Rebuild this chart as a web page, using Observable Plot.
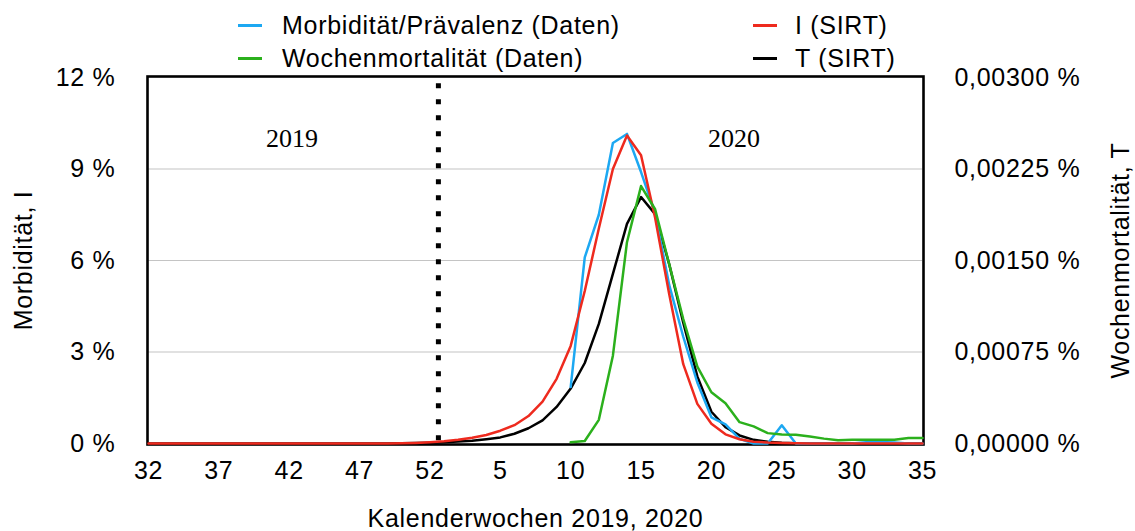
<!DOCTYPE html>
<html><head><meta charset="utf-8">
<script src="https://cdn.jsdelivr.net/npm/d3@7"></script>
<script src="https://cdn.jsdelivr.net/npm/@observablehq/plot@0.6"></script>
<style>
body{margin:0;background:#fff;}
#wrap{position:relative;width:1135px;height:531px;font-family:"Liberation Sans",Arial,sans-serif;}
#wrap svg text{letter-spacing:0.7px;}
#wrap svg g[font-family="Liberation Serif"] text{letter-spacing:0;}
.leg{position:absolute;font-size:25px;letter-spacing:0.7px;line-height:25px;height:25px;white-space:nowrap;color:#000;}
.sw{position:absolute;height:3px;}
</style></head><body><div id="wrap"></div>
<script>
// Calendar weeks (x categories)
const weeks2019 = [32,33,34,35,36,37,38,39,40,41,42,43,44,45,46,47,48,49,50,51,52];
const weeks2020 = [1,2,3,4,5,6,7,8,9,10,11,12,13,14,15,16,17,18,19,20,21,22,23,24,25,26,27,28,29,30,31,32,33,34,35];
const weekLabels = [...weeks2019, ...weeks2020];

// I (SIRT), % — left axis, from week 32/2019
const sirtI = [0,0,0,0,0,0,0,0,0,0,0,0,0,0,0,0,0,0,
  0.01,0.02,0.04,0.07,0.12,0.19,0.28,0.42,0.6,0.9,1.37,2.12,3.2,5.0,7.05,9.0,10.1,9.45,7.4,4.9,2.6,1.3,0.65,0.3,0.14,0.06,0.03,0.015,0.008,
  0,0,0,0,0,0,0,0,0];
// T (SIRT), % — right axis, from week 32/2019
const sirtT = [0,0,0,0,0,0,0,0,0,0,0,0,0,0,0,0,0,0,
  0.000002,0.000004,0.000007,0.000011,0.000016,0.000022,0.000035,0.00005,0.00008,0.000125,0.00019,0.0003,0.00045,0.00066,0.00098,0.00139,0.0018,0.00202,0.00188,0.00147,0.00099,0.00055,0.00026,0.000134,0.000066,0.00003,0.000015,0.000007,0.000003,
  0,0,0,0,0,0,0,0,0];
// Data series from week 10/2020 to week 35/2020
const morbidityData = [1.85,6.1,7.5,9.85,10.15,8.9,7.55,5.2,3.5,2.0,0.86,0.63,0.15,0,0,0.6,0,0,0,0,0,0.04,0.05,0.03,0,0];
const mortalityData = [0.00001,0.00002,0.000194,0.00072,0.00165,0.00211,0.00192,0.00147,0.00102,0.00063,0.00042,0.00033,0.000175,0.00014,0.000085,0.000074,0.000071,0.000057,0.00004,0.000026,0.00003,0.00003,0.00003,0.00003,0.000045,0.000045];
const dataStartWeek = 10; // 2020

const leftTicks = [0,3,6,9,12];
const rightMax = 0.003;
const xTickIdx = [0,5,10,15,20,25,30,35,40,45,50,55];
const yearLabels = ["2019","2020"];
const yearLabelX = [10.2, 41.6];
const yearLabelY = 10;
const yearBoundary = 20.6;

const legendLabels = ["Morbidität/Prävalenz (Daten)","Wochenmortalität (Daten)","I (SIRT)","T (SIRT)"];
const colors = {blue:"#1ca8f2", green:"#2bb01c", red:"#ee2a1e", black:"#000000"};
const legendColors = [colors.blue, colors.green, colors.red, colors.black];

const k = 12 / rightMax;
const start = weeks2019.length + weeks2020.indexOf(dataStartWeek);
const rowsI = sirtI.map((v,i)=>({i, v}));
const rowsT = sirtT.map((v,i)=>({i, v: v*k}));
const rowsM = morbidityData.map((v,j)=>({i: start+j, v}));
const rowsW = mortalityData.map((v,j)=>({i: start+j, v: v*k}));

const chart = Plot.plot({
  width:1135, height:531,
  marginTop:77, marginBottom:88, marginLeft:148, marginRight:213,
  style:{fontFamily:"Liberation Sans, Arial, sans-serif", fontSize:"25px", color:"#000", background:"#fff", overflow:"visible"},
  x:{domain:[0,55]},
  y:{domain:[0,12]},
  marks:[
    Plot.gridY([3,6,9], {stroke:"#c4c4c4", strokeOpacity:1, strokeWidth:1.2}),
    Plot.frame({stroke:"#000", strokeWidth:2.6, inset:-1}),
    Plot.axisX(xTickIdx, {tickSize:0, tickPadding:18, tickFormat:i=>String(weekLabels[i]), label:null}),
    Plot.axisY(leftTicks, {anchor:"left", tickSize:0, tickPadding:33, tickFormat:d=>`${d} %`, label:null}),
    Plot.axisY(leftTicks, {anchor:"right", tickSize:0, tickPadding:32, tickFormat:d=>(d/k).toFixed(5).replace(".",",")+" %", label:null}),
    Plot.ruleX([yearBoundary], {y1:0, y2:12, stroke:"#000", strokeWidth:5, strokeDasharray:"5,11", strokeDashoffset:13.2}),
    Plot.line(rowsT, {x:"i", y:"v", stroke:colors.black, strokeWidth:2.5}),
    Plot.line(rowsM, {x:"i", y:"v", stroke:colors.blue, strokeWidth:2.5}),
    Plot.line(rowsI, {x:"i", y:"v", stroke:colors.red, strokeWidth:2.5}),
    Plot.line(rowsW, {x:"i", y:"v", stroke:colors.green, strokeWidth:2.5}),
    Plot.text(yearLabels, {x:(d,i)=>yearLabelX[i], y:()=>yearLabelY, text:d=>d, fontFamily:"Liberation Serif", fontSize:26}),
    Plot.text(["Morbidität, I"], {frameAnchor:"left", dx:-125, rotate:-90, textAnchor:"middle", lineAnchor:"middle"}),
    Plot.text(["Wochenmortalität, T"], {frameAnchor:"right", dx:198, rotate:-90, textAnchor:"middle", lineAnchor:"middle"}),
    Plot.text(["Kalenderwochen 2019, 2020"], {frameAnchor:"bottom", dy:75, textAnchor:"middle", lineAnchor:"middle"})
  ]
});
const wrap = document.getElementById("wrap");
wrap.appendChild(chart);

// legend overlay above the plot frame
const legX = [[238,282],[238,282],[753,795],[753,795]];
const legTop = [12.8,45.8,12.8,45.8];
legendLabels.forEach((lab,i)=>{
  const sw = document.createElement("div");
  sw.className = "sw";
  sw.style.left = legX[i][0]+"px";
  sw.style.width = "24px";
  sw.style.top = (legTop[i]+11)+"px";
  sw.style.background = legendColors[i];
  wrap.appendChild(sw);
  const t = document.createElement("div");
  t.className = "leg";
  t.style.left = legX[i][1]+"px";
  t.style.top = legTop[i]+"px";
  t.textContent = lab;
  wrap.appendChild(t);
});
</script></body></html>
